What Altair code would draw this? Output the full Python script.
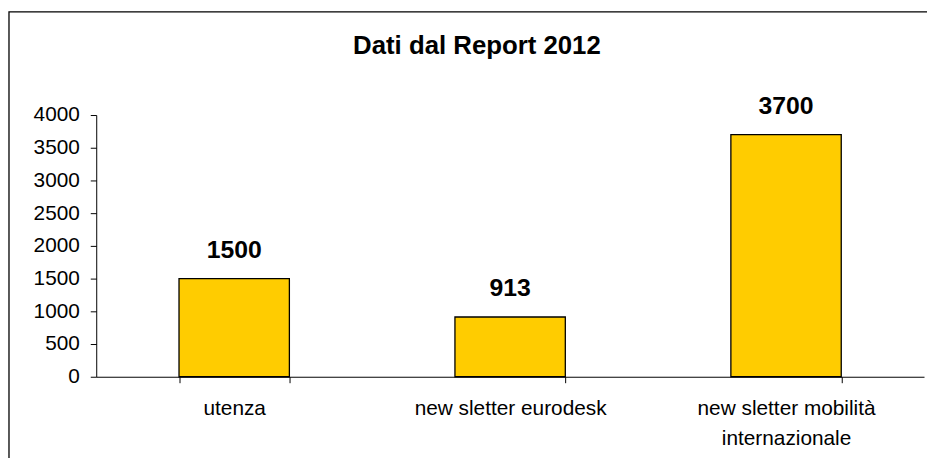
import altair as alt
import pandas as pd

categories = ["utenza", "new sletter eurodesk", "new sletter mobilità\ninternazionale"]
values = [1500, 913, 3700]
y_ticks = [0, 500, 1000, 1500, 2000, 2500, 3000, 3500, 4000]
title_text = "Dati dal Report 2012"

df = pd.DataFrame({"cat": categories, "val": values})

FONT = "Liberation Sans"

x_enc = alt.X(
    "cat:N",
    sort=categories,
    scale=alt.Scale(paddingInner=0.6, paddingOuter=0.3),
    axis=alt.Axis(
        title=None,
        labelAngle=0,
        labelExpr="split(datum.label, '\\n')",
        labelFont=FONT,
        labelFontSize=21,
        labelColor="black",
        labelLineHeight=30,
        labelBaseline="top",
        labelPadding=15,
        labelLimit=400,
        labelOverlap=False,
        tickSize=6,
        tickBand="extent",
        tickColor="black",
        domainColor="black",
        grid=False,
    ),
)
y_enc = alt.Y(
    "val:Q",
    scale=alt.Scale(domain=[0, 4000], nice=False),
    axis=alt.Axis(
        title=None,
        values=y_ticks,
        format="d",
        labelFont=FONT,
        labelFontSize=21,
        labelColor="black",
        labelPadding=11,
        labelOverlap=False,
        labelFlush=False,
        tickSize=6,
        tickColor="black",
        domainColor="black",
        grid=False,
    ),
)

base = alt.Chart(df)

frame = base.mark_rect(fill=None, stroke="black", strokeWidth=1.3, clip=False).encode(
    x=alt.value(-88), x2=alt.value(900), y=alt.value(-104), y2=alt.value(420)
).transform_filter("datum.cat == 'utenza'")

bars = base.mark_bar(color="#FFCC00", stroke="black", strokeWidth=1.3).encode(
    x=x_enc, y=y_enc
)

labels = base.mark_text(
    font=FONT, fontSize=25, fontWeight="bold", color="black", dy=-21, baseline="alphabetic"
).encode(x=x_enc, y=y_enc, text=alt.Text("val:Q", format="d"))

title = base.mark_text(
    text=title_text, font=FONT, fontSize=26, fontWeight="bold", color="black",
    baseline="alphabetic", align="center",
).encode(x=alt.value(384), y=alt.value(-62)).transform_filter("datum.cat == 'utenza'")

chart = (
    alt.layer(frame, bars, labels, title)
    .properties(
        width=835,
        height=264,
        autosize=alt.AutoSizeParams(type="none"),
        padding={"left": 89, "top": 106, "right": 3, "bottom": 80},
        background="white",
    )
    .configure_view(stroke=None)
)

chart.save("out.html", embed_options={"renderer": "svg", "actions": False})
